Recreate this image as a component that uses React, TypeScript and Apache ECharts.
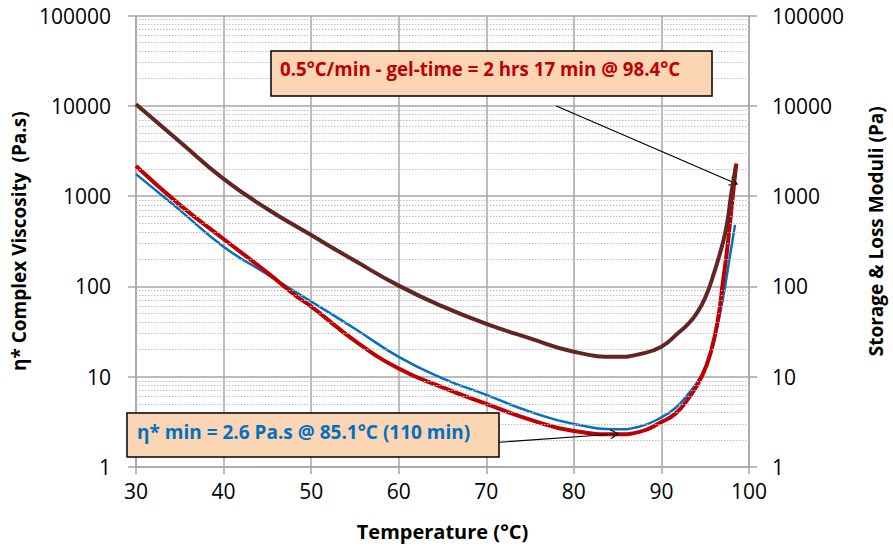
import React, { useEffect, useRef } from "react";
import * as echarts from "echarts";

// η* complex viscosity (blue, left axis)
const tempEta = [30, 35, 40, 45, 47.5, 50, 55, 60, 65, 70, 75, 80, 85, 87.5, 90, 91.6, 93.1, 94.6, 95.7, 96.1, 97.0, 97.75, 98.4];
const etaValues = [1750, 700, 275, 136, 96, 68, 34, 16.6, 9.6, 6.3, 4.1, 3.0, 2.62, 2.8, 3.55, 4.5, 6.5, 10.5, 19, 27, 71, 196, 480];

// Storage modulus G' (red, right axis)
const tempGp = [30, 35, 40, 45, 48.3, 50, 55, 60, 65, 70, 75, 80, 85, 87.5, 90, 91.6, 93, 94.6, 95.7, 96.5, 97.0, 97.5, 97.9, 98.3, 98.55];
const gpValues = [2150, 800, 335, 142, 78, 60, 25, 12.3, 7.6, 5.0, 3.35, 2.5, 2.3, 2.45, 3.15, 3.9, 5.6, 10, 19.8, 46, 108, 253, 590, 1380, 2300];

// Loss modulus G'' (brown, right axis)
const tempGpp = [30, 35, 40, 45, 50, 55, 60, 65, 70, 75, 80, 85, 87.5, 90, 92, 93, 94, 95, 96, 97, 97.5, 98, 98.5];
const gppValues = [10400, 4000, 1550, 720, 370, 192, 102, 60, 38.5, 26.6, 18.9, 16.6, 17.8, 21.5, 31, 38, 50, 75, 140, 300, 500, 1100, 2150];

const xTickInterval = 10;
const decades = [1, 10, 100, 1000, 10000];
const minorMultipliers = [2, 3, 4, 5, 6, 7, 8, 9];

const gelLabel = "0.5°C/min - gel-time = 2 hrs 17 min @ 98.4°C";
const etaMinLabel = "η* min = 2.6 Pa.s @ 85.1°C (110 min)";
const gelArrow = [[78.0, 9950], [98.3, 1407]];
const etaArrow = [[67.0, 1.75], [84.7, 2.32]];

const FONT = "'Open Sans', 'Noto Sans', sans-serif";
const GRID_COLOR = "#A6A6A6";

const zip = (xs: number[], ys: number[]) => xs.map((x, i) => [x, ys[i]]);

export default function App() {
  const ref = useRef<HTMLDivElement>(null);
  useEffect(() => {
    if (!ref.current) return;
    const chart = echarts.init(ref.current, null, { renderer: "svg" });
    const minorValues: number[] = [];
    decades.forEach((d) => minorMultipliers.forEach((m) => minorValues.push(d * m)));

    const yAxisCommon = {
      type: "log",
      logBase: 10,
      min: 1,
      max: 100000,
      axisLine: { show: true, lineStyle: { color: GRID_COLOR, width: 1.5 } },
      axisTick: { show: true, length: 8, lineStyle: { color: GRID_COLOR, width: 1.5 } },
      minorTick: { show: false },
      nameLocation: "middle",
      nameRotate: 90,
      nameTextStyle: { fontSize: 19, fontWeight: "bold", color: "#000", fontFamily: FONT },
    };

    const arrowSymbol = "path://M0,10 L5,0 L10,10 L8.8,10 L5,2.6 L1.2,10 Z";
    const lineCommon = { type: "line", showSymbol: false, smooth: 0.5 };

    chart.setOption({
      animation: false,
      grid: { left: 136, right: 131, top: 15.5, bottom: 81, containLabel: false },
      xAxis: {
        type: "value",
        min: 30,
        max: 100,
        interval: xTickInterval,
        axisLine: { show: true, onZero: false, lineStyle: { color: GRID_COLOR, width: 1.5 } },
        axisTick: { show: true, length: 7, lineStyle: { color: GRID_COLOR, width: 1.5 } },
        axisLabel: { fontSize: 21, color: "#000", margin: 13, fontFamily: FONT },
        splitLine: { show: true, lineStyle: { color: GRID_COLOR, width: 1.5 } },
        name: "Temperature (°C)",
        nameLocation: "middle",
        nameGap: 54,
        nameTextStyle: { fontSize: 20, fontWeight: "bold", color: "#000", fontFamily: FONT },
      },
      yAxis: [
        {
          ...yAxisCommon,
          position: "left",
          axisLabel: { fontSize: 21, color: "#000", margin: 25, fontFamily: FONT, formatter: (v: number) => String(v) },
          splitLine: { show: true, lineStyle: { color: GRID_COLOR, width: 1.5 } },
          name: "η* Complex Viscosity  (Pa.s)",
          nameGap: 107,
        },
        {
          ...yAxisCommon,
          position: "right",
          axisLabel: { fontSize: 21, color: "#000", margin: 23, fontFamily: FONT, formatter: (v: number) => String(v) },
          splitLine: { show: false },
          name: "Storage & Loss Moduli (Pa)",
          nameGap: 117,
          nameTextStyle: { fontSize: 19, fontWeight: "bold", color: "#000", fontFamily: FONT, padding: [0, 0, 0, 20] },
        },
      ],
      series: [
        {
          name: "minor-grid",
          type: "line",
          data: [],
          yAxisIndex: 0,
          z: 1,
          silent: true,
          markLine: {
            silent: true,
            symbol: ["none", "none"],
            label: { show: false },
            lineStyle: { color: "#BFBFBF", type: [1.5, 1.5], width: 1 },
            emphasis: { disabled: true },
            data: minorValues.map((v) => ({ yAxis: v })),
          },
        },
        {
          ...lineCommon,
          name: "η*",
          yAxisIndex: 0,
          data: zip(tempEta, etaValues),
          lineStyle: { color: "#0070C0", width: 2.5 },
          itemStyle: { color: "#0070C0" },
          z: 3,
        },
        {
          ...lineCommon,
          name: "G'",
          yAxisIndex: 1,
          data: zip(tempGp, gpValues),
          lineStyle: { color: "#C00000", width: 4 },
          itemStyle: { color: "#C00000" },
          z: 4,
        },
        {
          ...lineCommon,
          name: "G''",
          yAxisIndex: 1,
          data: zip(tempGpp, gppValues),
          lineStyle: { color: "#632523", width: 4 },
          itemStyle: { color: "#632523" },
          z: 5,
        },
        {
          name: "arrows",
          type: "line",
          data: [],
          yAxisIndex: 0,
          z: 200,
          silent: true,
          markLine: {
            silent: true,
            symbol: ["none", arrowSymbol],
            symbolSize: [10, 9],
            label: { show: false },
            lineStyle: { color: "#000", type: "solid", width: 1.2 },
            itemStyle: { color: "#000" },
            emphasis: { disabled: true },
            data: [
              [{ coord: gelArrow[0] }, { coord: gelArrow[1] }],
              [{ coord: etaArrow[0] }, { coord: etaArrow[1] }],
            ],
          },
        },
      ],
      graphic: [
        {
          type: "rect",
          z: 100,
          shape: { x: 271, y: 51, width: 441, height: 45 },
          style: { fill: "#FCD5B4", stroke: "#000", lineWidth: 1.5 },
        },
        {
          type: "text",
          z: 101,
          x: 280,
          y: 68,
          style: { text: gelLabel, fill: "#C00000", fontSize: 18.7, fontWeight: "bold", fontFamily: FONT, verticalAlign: "middle", align: "left" },
        },
        {
          type: "rect",
          z: 100,
          shape: { x: 127, y: 413, width: 372, height: 44 },
          style: { fill: "#FCD5B4", stroke: "#000", lineWidth: 1.5 },
        },
        {
          type: "text",
          z: 101,
          x: 137,
          y: 432,
          style: { text: etaMinLabel, fill: "#0070C0", fontSize: 19, fontWeight: "bold", fontFamily: FONT, verticalAlign: "middle", align: "left" },
        },
      ],
    });
    return () => chart.dispose();
  }, []);
  return <div ref={ref} style={{ position: "absolute", left: 0, top: 0, width: 893, height: 548 }} />;
}
